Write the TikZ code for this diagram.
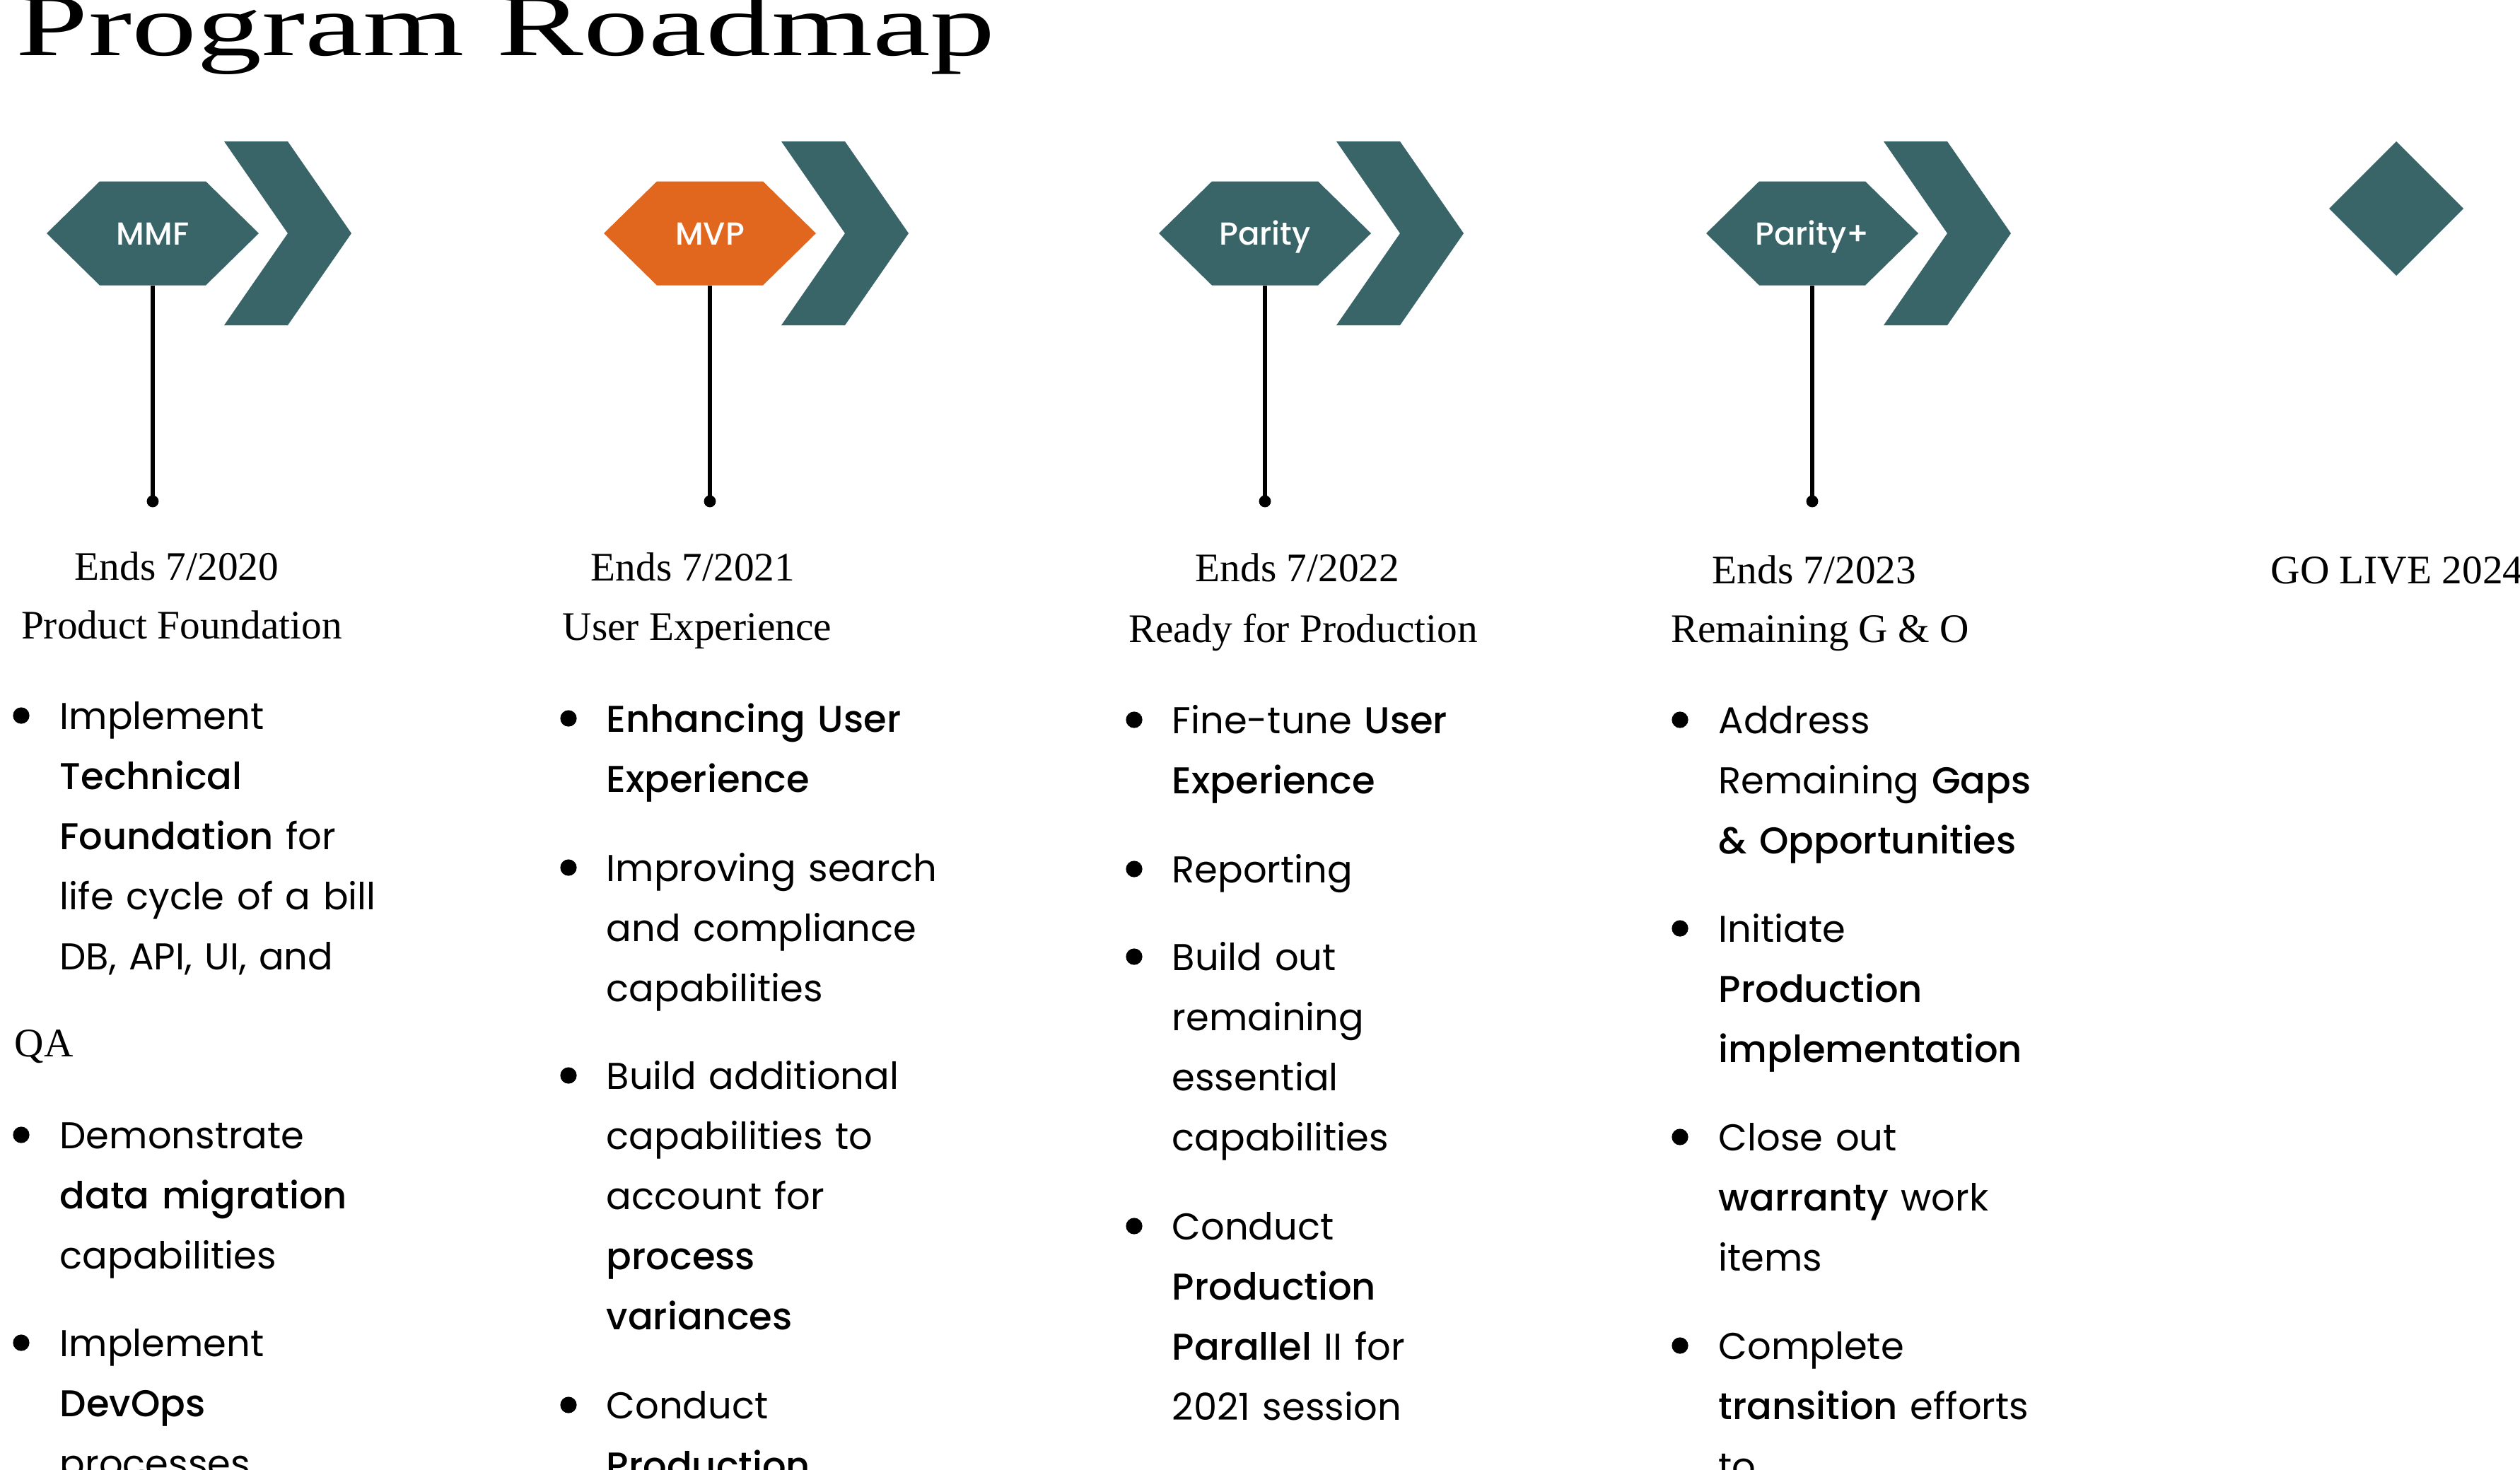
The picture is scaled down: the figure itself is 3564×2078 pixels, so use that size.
\documentclass[tikz,border=0pt]{standalone}
\usepackage{graphicx}
\usepackage{fontspec}
\setmainfont{Liberation Serif}
\newfontfamily\pop{Poppins}[BoldFont={Poppins Medium}]
\newfontfamily\popmed{Poppins Medium}
\definecolor{rmteal}{RGB}{58,101,104}
\definecolor{rmorange}{RGB}{226,103,30}
\begin{document}
\begin{tikzpicture}[x=0.01cm,y=-0.01cm,
  hexlabel/.style={inner sep=0pt, minimum width=42.7pt, minimum height=41.8pt, text=white, font=\popmed\fontsize{12.8}{15}\selectfont},
  dotnode/.style={circle, fill=black, inner sep=0pt, minimum size=4.8pt},
  stem/.style={line width=1.5pt, black},
  item/.style={anchor=base west, inner sep=0pt, text width=12cm, align=left, font=\pop\fontsize{15}{24.18}\selectfont},
  lbl/.style={anchor=base, inner sep=0pt, font=\fontsize{16.3}{20}\selectfont}]
\useasboundingbox (0,0) rectangle (3564,2078);
\fill[white] (0,0) rectangle (3564,2078);

% title
\node[anchor=base west, inner sep=0pt] (title) at (22,78) {\fontsize{35.6}{40}\selectfont\scalebox{1.47}[1]{Program Roadmap}};

% milestones
\foreach \cx/\lbl/\col/\nm in {216/MMF/rmteal/a, 1004/MVP/rmorange/b, 1789/Parity/rmteal/c, 2563/Parity+/rmteal/d}{
  \fill[\col] (\cx-150,330) -- (\cx-75,256.5) -- (\cx+75,256.5) -- (\cx+150,330) -- (\cx+75,403.5) -- (\cx-75,403.5) -- cycle;
  \fill[rmteal] (\cx+101,200) -- (\cx+191,200) -- (\cx+281,330) -- (\cx+191,460) -- (\cx+101,460) -- (\cx+191,330) -- cycle;
  \node[hexlabel] (h\nm) at (\cx,330) {};
  \node[text=white, font=\popmed\fontsize{12.8}{15}\selectfont, anchor=base, inner sep=0pt] at (\cx,346) {\lbl};
  \node[dotnode] (d\nm) at (\cx,709) {};
  \draw[stem] (h\nm.south) -- (d\nm.center);
}
% go live diamond
\fill[rmteal] (3389,200) -- (3484,295) -- (3389,390) -- (3294,295) -- cycle;

% labels
\node[lbl] (e1) at (250,820) {Ends 7/2020};
\node[lbl] (t1) at (257,903) {Product Foundation};
\node[lbl] (e2) at (980,821) {Ends 7/2021};
\node[lbl] (t2) at (986,905) {User Experience};
\node[lbl] (e3) at (1835,822) {Ends 7/2022};
\node[lbl] (t3) at (1843,908) {Ready for Production};
\node[lbl] (e4) at (2566,825) {Ends 7/2023};
\node[lbl] (t4) at (2574,908) {Remaining G \& O};
\node[lbl] (e5) at (3390,825) {GO LIVE 2024};

% bullets
\foreach \bx/\by in {30/1031, 30/1624, 30/1918,
  804/1035, 804/1246, 804/1540, 804/2006,
  1604/1037, 1604/1248, 1604/1372, 1604/1753,
  2376/1037, 2376/1332, 2376/1627, 2376/1922}
  \fill (\bx,\by-19) circle[radius=3.3pt];

% column 1
\node[item] (a1) at (84,1031) {Implement\\\textbf{Technical}\\\textbf{Foundation} for\\life cycle of a bill\\DB, API, UI, and};
\node[lbl, anchor=base west] (qa) at (20,1494) {QA};
\node[item] (a2) at (84,1624) {Demonstrate\\\textbf{data migration}\\capabilities};
\node[item] (a3) at (84,1918) {Implement\\\textbf{DevOps}\\processes};

% column 2
\node[item] (b1) at (857,1035) {\textbf{Enhancing User}\\\textbf{Experience}};
\node[item] (b2) at (857,1246) {Improving search\\and compliance\\capabilities};
\node[item] (b3) at (857,1540) {Build additional\\capabilities to\\account for\\\textbf{process}\\\textbf{variances}};
\node[item] (b4) at (857,2006) {Conduct\\\textbf{Production}};

% column 3
\node[item] (c1) at (1657,1037) {Fine-tune \textbf{User}\\\textbf{Experience}};
\node[item] (c2) at (1657,1248) {Reporting};
\node[item] (c3) at (1657,1372) {Build out\\remaining\\essential\\capabilities};
\node[item] (c4) at (1657,1753) {Conduct\\\textbf{Production}\\\textbf{Parallel} II for\\2021 session};

% column 4
\node[item] (d1) at (2430,1037) {Address\\Remaining \textbf{Gaps}\\\textbf{\& Opportunities}};
\node[item] (d2) at (2430,1332) {Initiate\\\textbf{Production}\\\textbf{implementation}};
\node[item] (d3) at (2430,1627) {Close out\\\textbf{warranty} work\\items};
\node[item] (d4) at (2430,1922) {Complete\\\textbf{transition} efforts\\to};
\end{tikzpicture}
\end{document}
